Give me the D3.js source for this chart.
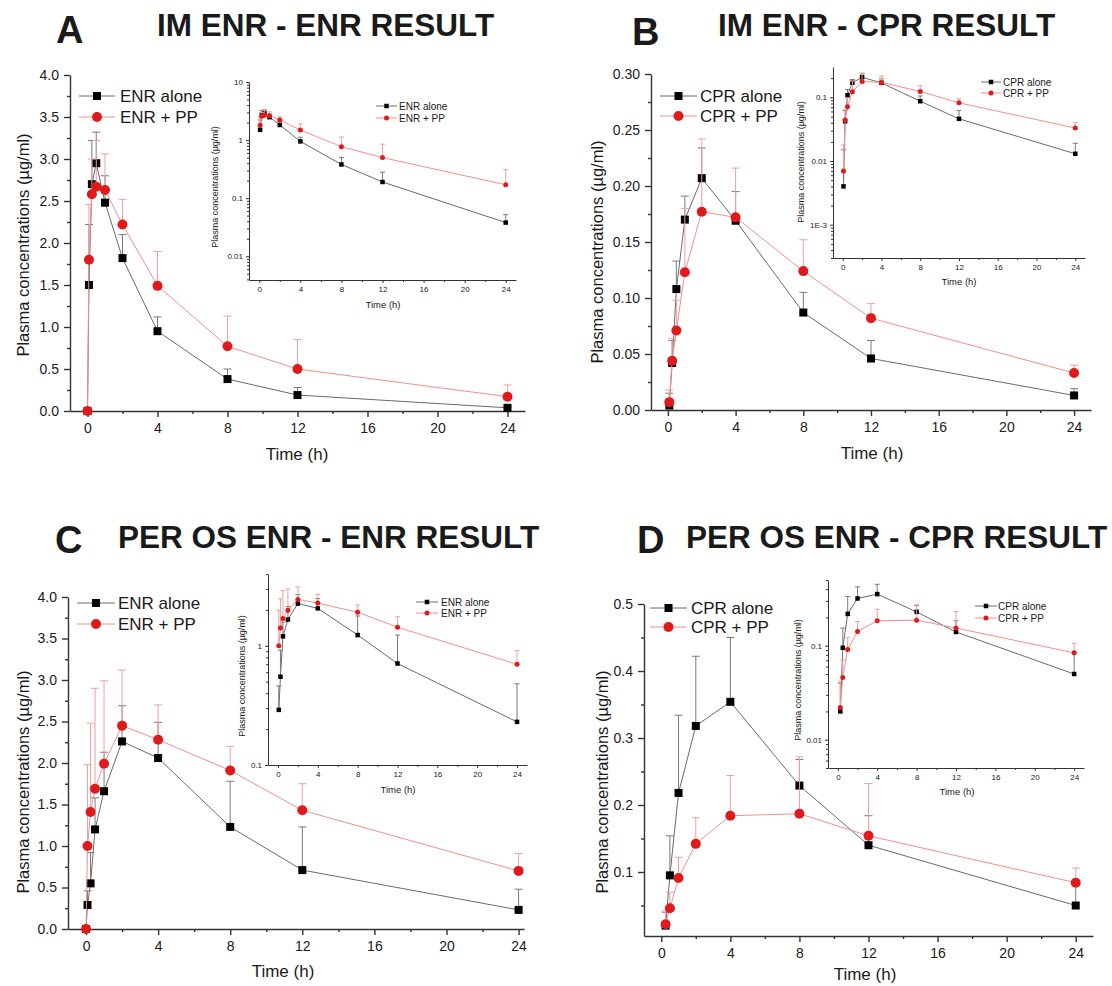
<!DOCTYPE html>
<meta charset="utf-8">
<head>
  <title>Plasma concentrations of ENR and CPR</title>
  <script src="https://d3js.org/d3.v7.min.js"></script>
  <style>
    body { margin: 0; background: #fff; }
    text { font-family: Arial, "Liberation Sans", sans-serif; fill: #1a1a1a; }
  </style>
</head>
<body>
<script>
// ---- data (time in h, concentrations in ug/ml; *Err = mean + SD) ----
var timesA = [0, 0.083, 0.25, 0.5, 1, 2, 4, 8, 12, 24];
var enrAloneA = [0, 1.50, 2.70, 2.95, 2.48, 1.82, 0.95, 0.38, 0.19, 0.038];
var enrAloneErrA = [0, 2.22, 3.22, 3.32, 2.80, 2.10, 1.12, 0.50, 0.28, 0.052];
var enrPPA = [0, 1.80, 2.58, 2.67, 2.63, 2.22, 1.49, 0.77, 0.50, 0.17];
var enrPPErrA = [0, 2.46, 3.00, 3.22, 3.06, 2.52, 1.90, 1.13, 0.85, 0.31];

var timesB = [0.083, 0.25, 0.5, 1, 2, 4, 8, 12, 24];
var cprAloneB = [0.004, 0.042, 0.108, 0.170, 0.207, 0.169, 0.087, 0.046, 0.013];
var cprAloneErrB = [0.015, 0.062, 0.133, 0.191, 0.234, 0.195, 0.105, 0.062, 0.019];
var cprPPB = [0.007, 0.044, 0.071, 0.123, 0.177, 0.172, 0.124, 0.082, 0.033];
var cprPPErrB = [0.018, 0.064, 0.098, 0.180, 0.242, 0.216, 0.152, 0.095, 0.040];

var timesC = [0, 0.083, 0.25, 0.5, 1, 2, 4, 8, 12, 24];
var enrAloneC = [0, 0.29, 0.55, 1.20, 1.66, 2.26, 2.06, 1.23, 0.71, 0.23];
var enrAloneErrC = [0, 0.46, 0.92, 1.58, 2.13, 2.69, 2.49, 1.78, 1.23, 0.48];
var enrPPC = [0, 1.00, 1.41, 1.69, 1.99, 2.45, 2.28, 1.91, 1.43, 0.70];
var enrPPErrC = [0, 1.98, 2.48, 2.90, 2.99, 3.12, 2.70, 2.20, 1.75, 0.91];

var timesD = [0.25, 0.5, 1, 2, 4, 8, 12, 24];
var cprAloneD = [0.020, 0.095, 0.218, 0.318, 0.354, 0.229, 0.140, 0.050];
var cprAloneErrD = [0.040, 0.154, 0.334, 0.422, 0.450, 0.268, 0.184, 0.084];
var cprPPD = [0.022, 0.046, 0.091, 0.142, 0.184, 0.187, 0.154, 0.084];
var cprPPErrD = [0.042, 0.070, 0.122, 0.181, 0.244, 0.272, 0.232, 0.106];

var timeTicks = [0, 4, 8, 12, 16, 20, 24];
var timeMinor = [2, 6, 10, 14, 18, 22];

var panelLetters = ["A", "B", "C", "D"];
var panelTitles = ["IM ENR - ENR RESULT", "IM ENR - CPR RESULT", "PER OS ENR - ENR RESULT", "PER OS ENR - CPR RESULT"];
var seriesNamesENR = ["ENR alone", "ENR + PP"];
var seriesNamesCPR = ["CPR alone", "CPR + PP"];

var insetTickLabelsA = ["10", "1", "0.1", "0.01"];
var insetTickLabelsB = ["0.1", "0.01", "1E-3"];
var insetTickLabelsC = ["1", "0.1"];
var insetTickLabelsD = ["0.1", "0.01"];

var blackCol = "#000", blackLine = "#6b6b6b", blackErr = "#7a7a7a";
var redCol = "#e0191b", redLine = "#ef9090", redErr = "#eda0a0";
var yLabel = "Plasma concentrations (\u00b5g/ml)";

var svg = d3.select("body").append("svg")
  .attr("width", 1112).attr("height", 986);

function zip(t, v, e) {
  return t.map(function(d, i) { return {t: d, v: v[i], e: e[i]}; });
}

function styleAxis(g, w) {
  g.select(".domain").attr("stroke", "#333").attr("stroke-width", w);
  g.selectAll(".tick line").attr("stroke", "#333").attr("stroke-width", w);
}

function drawSeries(g, x, y, data, col, lineCol, errCol, shape, sz, cap) {
  var line = d3.line().x(function(d) { return x(d.t); }).y(function(d) { return y(d.v); });
  g.append("path").datum(data).attr("d", line)
    .attr("fill", "none").attr("stroke", lineCol).attr("stroke-width", 1);
  var eb = data.filter(function(d) { return d.e > d.v; });
  g.selectAll(null).data(eb).enter().append("line")
    .attr("x1", function(d) { return x(d.t); }).attr("x2", function(d) { return x(d.t); })
    .attr("y1", function(d) { return y(d.v); }).attr("y2", function(d) { return y(d.e); })
    .attr("stroke", errCol).attr("stroke-width", 1);
  g.selectAll(null).data(eb).enter().append("line")
    .attr("x1", function(d) { return x(d.t) - cap; }).attr("x2", function(d) { return x(d.t) + cap; })
    .attr("y1", function(d) { return y(d.e); }).attr("y2", function(d) { return y(d.e); })
    .attr("stroke", errCol).attr("stroke-width", 1);
  drawMarkers(g, data.map(function(d) { return [x(d.t), y(d.v)]; }), col, shape, sz);
}

function drawMarkers(g, pts, col, shape, sz) {
  if (shape === "square") {
    g.selectAll(null).data(pts).enter().append("rect")
      .attr("x", function(d) { return d[0] - sz / 2; }).attr("y", function(d) { return d[1] - sz / 2; })
      .attr("width", sz).attr("height", sz).attr("fill", col);
  } else {
    g.selectAll(null).data(pts).enter().append("circle")
      .attr("cx", function(d) { return d[0]; }).attr("cy", function(d) { return d[1]; })
      .attr("r", sz / 2).attr("fill", col);
  }
}

function legend(g, L, names, fs, sz) {
  var rows = [[blackLine, blackCol, "square", sz[0]], [redLine, redCol, "circle", sz[1]]];
  rows.forEach(function(r, i) {
    var yy = L.y[i];
    g.append("line").attr("x1", L.x0).attr("x2", L.x1).attr("y1", yy).attr("y2", yy)
      .attr("stroke", r[0]).attr("stroke-width", 1);
    drawMarkers(g, [[(L.x0 + L.x1) / 2, yy]], r[1], r[2], r[3]);
    g.append("text").attr("x", L.tx).attr("y", yy).attr("dy", "0.36em")
      .attr("font-size", fs).text(names[i]);
  });
}

function drawPanel(p) {
  var g = svg.append("g");
  // heading
  g.append("text").attr("x", p.letter[0]).attr("y", p.letter[1])
    .attr("font-size", 38).attr("font-weight", "bold").text(p.letterText);
  g.append("text").attr("x", p.title[0]).attr("y", p.title[1])
    .attr("font-size", 31.5).attr("font-weight", "bold").text(p.titleText);

  // main plot
  var x = d3.scaleLinear().domain(p.xDomain).range(p.xRange);
  var y = d3.scaleLinear().domain(p.yDomain).range(p.yRange);
  var bottom = p.yRange[0], left = p.xRange[0];

  var gx = g.append("g").attr("transform", "translate(0," + bottom + ")")
    .call(d3.axisBottom(x).tickValues(timeTicks).tickSize(6).tickSizeOuter(0).tickPadding(6));
  gx.selectAll("text").attr("font-size", 14);
  styleAxis(gx, 1.4);
  var gxm = g.append("g").attr("transform", "translate(0," + bottom + ")")
    .call(d3.axisBottom(x).tickValues(timeMinor).tickSize(3).tickFormat(""));
  gxm.select(".domain").remove(); styleAxis(gxm, 1.4);

  var gy = g.append("g").attr("transform", "translate(" + left + ",0)")
    .call(d3.axisLeft(y).tickValues(p.yTicks).tickSize(6).tickSizeOuter(0).tickPadding(5)
      .tickFormat(d3.format(p.yFmt)));
  gy.selectAll("text").attr("font-size", 14);
  styleAxis(gy, 1.4);
  var gym = g.append("g").attr("transform", "translate(" + left + ",0)")
    .call(d3.axisLeft(y).tickValues(p.yMinor).tickSize(3).tickFormat(""));
  gym.select(".domain").remove(); styleAxis(gym, 1.4);

  g.append("text").attr("x", p.xLab[0]).attr("y", p.xLab[1]).attr("text-anchor", "middle")
    .attr("font-size", 17).text("Time (h)");
  g.append("text").attr("transform", "translate(" + p.yLab[0] + "," + p.yLab[1] + ") rotate(-90)")
    .attr("text-anchor", "middle").attr("dy", "0.36em").attr("font-size", 16.5).text(yLabel);

  drawSeries(g, x, y, p.s1, blackCol, blackLine, blackErr, "square", 8, 4);
  drawSeries(g, x, y, p.s2, redCol, redLine, redErr, "circle", 10, 4);
  legend(g, p.legend, p.names, 17, [8, 10]);

  // inset (log scale)
  var I = p.inset;
  var xi = d3.scaleLinear().domain([-1, 25]).range(I.xRange);
  var yi = d3.scaleLog().domain(I.yDomain).range(I.yRange);
  var ib = I.yRange[0], il = I.xRange[0];
  var gix = g.append("g").attr("transform", "translate(0," + ib + ")")
    .call(d3.axisBottom(xi).tickValues(timeTicks).tickSize(3).tickSizeOuter(0).tickPadding(3));
  gix.selectAll("text").attr("font-size", 8);
  styleAxis(gix, 1);
  var gixm = g.append("g").attr("transform", "translate(0," + ib + ")")
    .call(d3.axisBottom(xi).tickValues(timeMinor).tickSize(2).tickFormat(""));
  gixm.select(".domain").remove(); styleAxis(gixm, 1);

  var minor = [];
  var lo = Math.floor(Math.log10(I.yDomain[0])), hi = Math.ceil(Math.log10(I.yDomain[1]));
  for (var dec = lo; dec < hi; dec++) {
    for (var k = 2; k < 10; k++) {
      var v = k * Math.pow(10, dec);
      if (v >= I.yDomain[0] && v <= I.yDomain[1]) minor.push(v);
    }
  }
  var giy = g.append("g").attr("transform", "translate(" + il + ",0)")
    .call(d3.axisLeft(yi).tickValues(I.yTicks).tickSize(3).tickSizeOuter(0).tickPadding(3)
      .tickFormat(function(d, i) { return I.yLabels[i]; }));
  giy.selectAll("text").attr("font-size", 8);
  styleAxis(giy, 1);
  var giym = g.append("g").attr("transform", "translate(" + il + ",0)")
    .call(d3.axisLeft(yi).tickValues(minor).tickSize(2).tickFormat(""));
  giym.select(".domain").remove(); styleAxis(giym, 1);

  g.append("text").attr("x", I.xLab[0]).attr("y", I.xLab[1]).attr("text-anchor", "middle")
    .attr("dy", "0.36em").attr("font-size", 9.5).text("Time (h)");
  g.append("text").attr("transform", "translate(" + I.yLab[0] + "," + I.yLab[1] + ") rotate(-90)")
    .attr("text-anchor", "middle").attr("dy", "0.36em").attr("font-size", 9).text(yLabel);

  var pos = function(d) { return d.v > 0; };
  drawSeries(g, xi, yi, p.s1.filter(pos), blackCol, blackLine, blackErr, "square", 4.5, 2.5);
  drawSeries(g, xi, yi, p.s2.filter(pos), redCol, redLine, redErr, "circle", 5, 2.5);
  legend(g, I.legend, p.names, 10, [4.5, 5]);
}

drawPanel({
  letterText: panelLetters[0], letter: [56, 43], titleText: panelTitles[0], title: [157, 36],
  xDomain: [-1, 25], xRange: [70, 525], yDomain: [0, 4], yRange: [411, 75],
  yTicks: [0, 0.5, 1, 1.5, 2, 2.5, 3, 3.5, 4], yMinor: [0.25, 0.75, 1.25, 1.75, 2.25, 2.75, 3.25, 3.75], yFmt: ".1f",
  xLab: [297, 460], yLab: [23, 245],
  s1: zip(timesA, enrAloneA, enrAloneErrA), s2: zip(timesA, enrPPA, enrPPErrA), names: seriesNamesENR,
  legend: {x0: 79, x1: 115, tx: 120, y: [96, 117]},
  inset: {xRange: [249, 516], yDomain: [0.0039, 10], yRange: [280, 82], yTicks: [10, 1, 0.1, 0.01], yLabels: insetTickLabelsA,
    xLab: [383, 305], yLab: [215, 187], legend: {x0: 376, x1: 397, tx: 399, y: [106, 118]}}
});

drawPanel({
  letterText: panelLetters[1], letter: [632, 45], titleText: panelTitles[1], title: [718, 36],
  xDomain: [-1, 25], xRange: [651, 1091], yDomain: [0, 0.3], yRange: [410, 74],
  yTicks: [0, 0.05, 0.1, 0.15, 0.2, 0.25, 0.3], yMinor: [0.025, 0.075, 0.125, 0.175, 0.225, 0.275], yFmt: ".2f",
  xLab: [872, 459], yLab: [597, 252],
  s1: zip(timesB, cprAloneB, cprAloneErrB), s2: zip(timesB, cprPPB, cprPPErrB), names: seriesNamesCPR,
  legend: {x0: 660, x1: 697, tx: 700, y: [96, 116]},
  inset: {xRange: [833, 1085], yDomain: [0.0003, 0.3], yRange: [258, 67], yTicks: [0.1, 0.01, 0.001], yLabels: insetTickLabelsB,
    xLab: [959, 282], yLab: [801, 162], legend: {x0: 981, x1: 1001, tx: 1003, y: [82, 93]}}
});

drawPanel({
  letterText: panelLetters[2], letter: [55, 553], titleText: panelTitles[2], title: [118, 548],
  xDomain: [-1, 24.3], xRange: [68, 524], yDomain: [0, 4], yRange: [929, 597],
  yTicks: [0, 0.5, 1, 1.5, 2, 2.5, 3, 3.5, 4], yMinor: [0.25, 0.75, 1.25, 1.75, 2.25, 2.75, 3.25, 3.75], yFmt: ".1f",
  xLab: [283, 977], yLab: [23, 782],
  s1: zip(timesC, enrAloneC, enrAloneErrC), s2: zip(timesC, enrPPC, enrPPErrC), names: seriesNamesENR,
  legend: {x0: 77, x1: 115, tx: 118, y: [603, 624]},
  inset: {xRange: [268, 527], yDomain: [0.1, 4], yRange: [765, 574], yTicks: [1, 0.1], yLabels: insetTickLabelsC,
    xLab: [398, 790], yLab: [242, 676], legend: {x0: 416, x1: 438, tx: 441, y: [602, 613]}}
});

drawPanel({
  letterText: panelLetters[3], letter: [637, 553], titleText: panelTitles[3], title: [686, 548],
  xDomain: [-1, 25], xRange: [644, 1093], yDomain: [0.0045, 0.5], yRange: [936, 604],
  yTicks: [0.1, 0.2, 0.3, 0.4, 0.5], yMinor: [0.05, 0.15, 0.25, 0.35, 0.45], yFmt: ".1f",
  xLab: [865, 980], yLab: [602, 782],
  s1: zip(timesD, cprAloneD, cprAloneErrD), s2: zip(timesD, cprPPD, cprPPErrD), names: seriesNamesCPR,
  legend: {x0: 650, x1: 687, tx: 691, y: [608, 627]},
  inset: {xRange: [828, 1084], yDomain: [0.005, 0.5], yRange: [768, 580], yTicks: [0.1, 0.01], yLabels: insetTickLabelsD,
    xLab: [957, 792], yLab: [798, 680], legend: {x0: 975, x1: 997, tx: 998, y: [606, 618]}}
});
</script>
</body>
</html>
